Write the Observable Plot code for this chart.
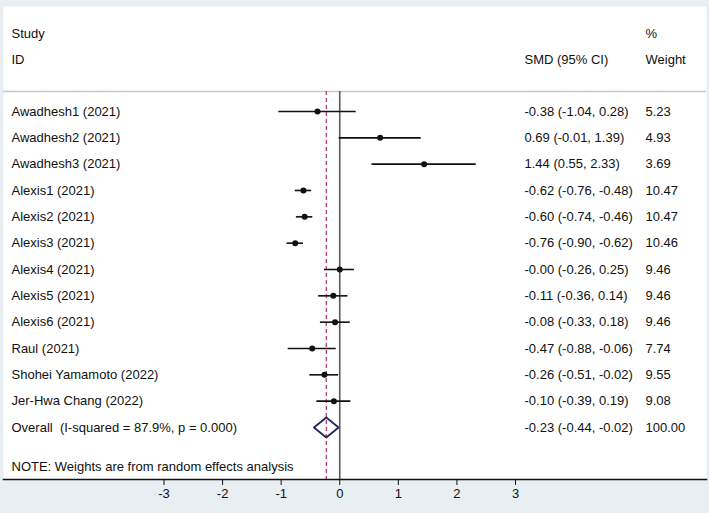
<!DOCTYPE html>
<html><head><meta charset="utf-8">
<script src="https://cdn.jsdelivr.net/npm/d3@7"></script>
<script src="https://cdn.jsdelivr.net/npm/@observablehq/plot@0.6"></script>
<style>
html,body{margin:0;padding:0;background:#e8eef2}
svg{display:block}
</style>
</head><body><div id="chart"></div>
<script>
const studies = ["Awadhesh1 (2021)","Awadhesh2 (2021)","Awadhesh3 (2021)","Alexis1 (2021)","Alexis2 (2021)","Alexis3 (2021)","Alexis4 (2021)","Alexis5 (2021)","Alexis6 (2021)","Raul (2021)","Shohei Yamamoto (2022)","Jer-Hwa Chang (2022)"];
const smd =   [-0.38, 0.69, 1.44, -0.62, -0.60, -0.76, -0.00, -0.11, -0.08, -0.47, -0.26, -0.10];
const lower = [-1.04, -0.01, 0.55, -0.76, -0.74, -0.90, -0.26, -0.36, -0.33, -0.88, -0.51, -0.39];
const upper = [0.28, 1.39, 2.33, -0.48, -0.46, -0.62, 0.25, 0.14, 0.18, -0.06, -0.02, 0.19];
const ciLabels = ["-0.38 (-1.04, 0.28)","0.69 (-0.01, 1.39)","1.44 (0.55, 2.33)","-0.62 (-0.76, -0.48)","-0.60 (-0.74, -0.46)","-0.76 (-0.90, -0.62)","-0.00 (-0.26, 0.25)","-0.11 (-0.36, 0.14)","-0.08 (-0.33, 0.18)","-0.47 (-0.88, -0.06)","-0.26 (-0.51, -0.02)","-0.10 (-0.39, 0.19)"];
const weights = ["5.23","4.93","3.69","10.47","10.47","10.46","9.46","9.46","9.46","7.74","9.55","9.08"];
const overallLabel = "Overall\u00a0 (I-squared = 87.9%, p = 0.000)";
const overallEst = -0.23, overallLo = -0.44, overallHi = -0.02;
const overallCI = "-0.23 (-0.44, -0.02)";
const overallWeight = "100.00";
const xTicks = [-3, -2, -1, 0, 1, 2, 3];
const headerLeft = ["Study", "ID"];
const headerCI = "SMD (95% CI)";
const headerW = ["%", "Weight"];
const note = "NOTE: Weights are from random effects analysis";

const rows = studies.map((s, i) => ({i, study: s, est: smd[i], lo: lower[i], hi: upper[i], ci: ciLabels[i], w: weights[i]}));
const oi = rows.length;
const allRows = rows.concat([{i: oi, study: overallLabel, est: overallEst, lo: overallLo, hi: overallHi, ci: overallCI, w: overallWeight}]);
const h = 0.38;
const diamond = [
  {x: overallLo, y: oi}, {x: overallEst, y: oi - h}, {x: overallHi, y: oi},
  {x: overallEst, y: oi + h}, {x: overallLo, y: oi}
];

const FS = 13;
const T = {frameAnchor: "top-left", textAnchor: "start", lineAnchor: "middle", fontSize: FS, fill: "#111"};
const chart = Plot.plot({
  width: 709, height: 513,
  marginLeft: 3, marginRight: 3, marginTop: 6, marginBottom: 34,
  style: {fontFamily: "Liberation Sans, Arial, sans-serif", fontSize: "13px", background: "#e8eef2", color: "#111"},
  x: {domain: [-3, 3], range: [163.5, 515]},
  y: {domain: [0, oi], range: [111, 427], axis: null},
  marks: [
    Plot.frame({fill: "white", stroke: null}),
    Plot.ruleY([0], {dy: -20, stroke: "#c8c8c8", strokeWidth: 1.5}),
    Plot.ruleX([0], {insetTop: 85, stroke: "#5a5a5a", strokeWidth: 1.6}),
    Plot.ruleX([overallEst], {insetTop: 85, stroke: "#b3304c", strokeWidth: 1.2, strokeDasharray: "4,3"}),
    Plot.ruleY(rows, {y: "i", x1: "lo", x2: "hi", stroke: "#111", strokeWidth: 1.6}),
    Plot.dot(rows, {x: "est", y: "i", r: 3, fill: "#111", stroke: null}),
    Plot.line(diamond, {x: "x", y: "y", stroke: "#24245e", strokeWidth: 1.8, curve: "linear"}),
    Plot.text(allRows, {y: "i", text: "study", frameAnchor: "left", textAnchor: "start", dx: 8, fontSize: FS, fill: "#111"}),
    Plot.text(allRows, {y: "i", text: "ci", frameAnchor: "left", textAnchor: "start", dx: 521, fontSize: FS, fill: "#111"}),
    Plot.text(allRows, {y: "i", text: "w", frameAnchor: "left", textAnchor: "start", dx: 642, fontSize: FS, fill: "#111"}),
    Plot.text([headerLeft[0]], {...T, text: d => d, dx: 8, dy: 27}),
    Plot.text([headerLeft[1]], {...T, text: d => d, dx: 8, dy: 53}),
    Plot.text([headerCI], {...T, text: d => d, dx: 521, dy: 53}),
    Plot.text([headerW[0]], {...T, text: d => d, dx: 642, dy: 27}),
    Plot.text([headerW[1]], {...T, text: d => d, dx: 642, dy: 53}),
    Plot.text([note], {...T, frameAnchor: "bottom-left", text: d => d, dx: 8, dy: -13}),
    Plot.frame({anchor: "bottom", stroke: "#111", strokeWidth: 1.5}),
    Plot.axisX({ticks: xTicks, tickFormat: d => String(d), tickSize: 6, tickPadding: 3, fontSize: FS, stroke: "#111", fill: "#111", label: null})
  ]
});
document.getElementById("chart").appendChild(chart);
</script>
</body></html>
